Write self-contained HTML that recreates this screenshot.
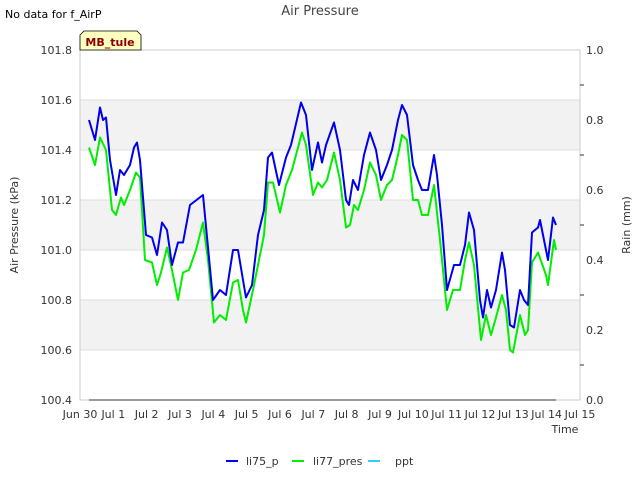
<!DOCTYPE html>
<html><head><meta charset="utf-8"><style>
body{margin:0;background:#fff;font-family:"Liberation Sans","DejaVu Sans",sans-serif}
svg text{font-family:"DejaVu Sans","Liberation Sans",sans-serif}
</style></head><body>
<svg id="chart" width="640" height="480" xmlns="http://www.w3.org/2000/svg">
<text x="5" y="18" font-size="11" fill="#000">No data for f_AirP</text>
<text x="320" y="15" font-size="13" fill="#444" text-anchor="middle">Air Pressure</text>
<g id="bands"></g><g id="grid"></g>
<rect x="80" y="50" width="500" height="350" fill="none" stroke="#ccc"/>
<g id="axes"></g><g id="series"></g>
<g><path d="M80,50 L80,35 L84,31 L137,31 L141,35 L141,50 Z" fill="#ffffc0" stroke="#000" stroke-width="0.8"/>
<text x="110" y="46" font-size="11" font-weight="bold" fill="#8b0000" text-anchor="middle">MB_tule</text></g>
<text transform="translate(18,225) rotate(-90)" font-size="11" fill="#333" text-anchor="middle">Air Pressure (kPa)</text>
<text transform="translate(630,225) rotate(-90)" font-size="11" fill="#333" text-anchor="middle">Rain (mm)</text>
<text x="565" y="433" font-size="11" fill="#333" text-anchor="middle">Time</text>
<g>
<g><line x1="226" y1="461" x2="238" y2="461" stroke="#0000ee" stroke-width="2"/><text x="246" y="465" font-size="11" fill="#333">li75_p</text></g>
<g><line x1="292" y1="461" x2="304" y2="461" stroke="#00ee00" stroke-width="2"/><text x="313" y="465" font-size="11" fill="#333">li77_pres</text></g>
<g><line x1="368" y1="461" x2="380" y2="461" stroke="#33ccff" stroke-width="2"/><text x="395" y="465" font-size="11" fill="#333">ppt</text></g>
</g>
</svg>
<script>
const xTickLabels=["Jun 30","Jul 1","Jul 2","Jul 3","Jul 4","Jul 5","Jul 6","Jul 7","Jul 8","Jul 9","Jul 10","Jul 11","Jul 12","Jul 13","Jul 14","Jul 15"];
const yTicks=[100.4,100.6,100.8,101.0,101.2,101.4,101.6,101.8];
const y2Ticks=[0,0.2,0.4,0.6,0.8,1.0];
const li75Days=[.27,.45,.60,.69,.78,.90,1.08,1.20,1.32,1.50,1.62,1.71,1.80,1.98,2.16,2.31,2.46,2.61,2.76,2.94,3.09,3.30,3.69,3.99,4.20,4.38,4.59,4.74,4.89,4.98,5.16,5.34,5.52,5.64,5.76,5.97,6.18,6.33,6.63,6.78,6.96,7.14,7.26,7.38,7.62,7.80,7.98,8.07,8.19,8.34,8.52,8.70,8.88,9.03,9.21,9.36,9.54,9.66,9.81,9.99,10.14,10.26,10.44,10.62,10.71,10.86,11.01,11.22,11.40,11.55,11.67,11.82,12.00,12.09,12.21,12.33,12.48,12.66,12.75,12.90,13.02,13.20,13.32,13.44,13.56,13.74,13.80,13.98,14.04,14.19,14.28];
const li75Vals=[101.52,101.44,101.57,101.52,101.53,101.36,101.22,101.32,101.30,101.34,101.41,101.43,101.36,101.06,101.05,100.98,101.11,101.08,100.94,101.03,101.03,101.18,101.22,100.80,100.84,100.82,101.0,101.0,100.88,100.81,100.86,101.06,101.16,101.37,101.39,101.26,101.37,101.42,101.59,101.54,101.32,101.43,101.35,101.42,101.51,101.40,101.20,101.18,101.28,101.24,101.38,101.47,101.40,101.28,101.34,101.40,101.52,101.58,101.54,101.34,101.28,101.24,101.24,101.38,101.30,101.10,100.84,100.94,100.94,101.02,101.15,101.08,100.80,100.73,100.84,100.77,100.84,100.99,100.92,100.70,100.69,100.84,100.80,100.78,101.07,101.09,101.12,101.0,100.96,101.13,101.10];
const li77Days=[.27,.45,.60,.78,.96,1.08,1.23,1.32,1.50,1.68,1.80,1.95,2.16,2.31,2.43,2.61,2.76,2.94,3.09,3.27,3.48,3.69,3.84,4.02,4.20,4.38,4.59,4.74,4.89,4.98,5.19,5.34,5.52,5.64,5.79,6.00,6.18,6.36,6.66,6.78,6.99,7.14,7.26,7.41,7.62,7.80,7.98,8.10,8.22,8.34,8.52,8.70,8.88,9.03,9.21,9.36,9.54,9.66,9.81,9.99,10.14,10.26,10.44,10.62,10.80,11.01,11.19,11.40,11.55,11.67,11.82,12.03,12.18,12.33,12.48,12.66,12.78,12.90,12.99,13.20,13.35,13.44,13.56,13.74,13.98,14.04,14.22,14.28];
const li77Vals=[101.41,101.34,101.45,101.40,101.16,101.14,101.21,101.18,101.24,101.31,101.29,100.96,100.95,100.86,100.91,101.01,100.92,100.80,100.91,100.92,101.0,101.11,100.96,100.71,100.74,100.72,100.87,100.88,100.76,100.71,100.84,100.94,101.06,101.27,101.27,101.15,101.26,101.32,101.47,101.42,101.22,101.27,101.25,101.28,101.39,101.28,101.09,101.10,101.18,101.16,101.24,101.35,101.30,101.20,101.26,101.28,101.38,101.46,101.44,101.20,101.20,101.14,101.14,101.26,101.04,100.76,100.84,100.84,100.96,101.03,100.94,100.64,100.74,100.66,100.73,100.82,100.76,100.60,100.59,100.74,100.66,100.68,100.95,100.99,100.90,100.86,101.04,101.0];
const pptDays=[.27,14.28];
const pptVals=[0,0];
const NS="http://www.w3.org/2000/svg";
const X=d=>80+d*500/15, Y=v=>50+(101.8-v)*250, Y2=v=>400-v*350;
function mk(tag,attrs,parent){const e=document.createElementNS(NS,tag);for(const k in attrs)e.setAttribute(k,attrs[k]);document.getElementById(parent).appendChild(e);return e;}
for(let i=0;i<yTicks.length-1;i++){if(i%2===1){const r=mk('rect',{x:80,y:Y(yTicks[i+1]),width:500,height:Y(yTicks[i])-Y(yTicks[i+1]),fill:'#f2f2f2'},'bands');

}}
yTicks.forEach(v=>{const l=mk('line',{x1:80,x2:580,y1:Y(v),y2:Y(v),stroke:'#ddd'},'grid');


const t=mk('text',{x:72,y:Y(v)+4,'font-size':11,fill:'#333','text-anchor':'end'},'axes');t.textContent=v.toFixed(1);

});
y2Ticks.forEach(v=>{const t=mk('text',{x:586,y:Y2(v)+4,'font-size':11,fill:'#333'},'axes');t.textContent=v.toFixed(1);

});
for(let i=1;i<10;i+=2){const l=mk('line',{x1:580,x2:584,y1:Y2(i/10),y2:Y2(i/10),stroke:'#333'},'axes');

}
xTickLabels.forEach((s,i)=>{const t=mk('text',{x:X(i),y:418,'font-size':11,fill:'#333','text-anchor':'middle'},'axes');t.textContent=s;

});
function line(ds,vs,yf,color,name){const p=mk('polyline',{points:ds.map((d,i)=>X(d).toFixed(1)+','+yf(vs[i]).toFixed(1)).join(' '),fill:'none',stroke:color,'stroke-width':2,'stroke-linejoin':'round'},'series');

}
line(pptDays,pptVals,Y2,'#999','ppt-line');
line(li77Days,li77Vals,Y,'#00ee00','li77-pres-line');
line(li75Days,li75Vals,Y,'#0000ee','li75-p-line');
</script>
</body></html>
